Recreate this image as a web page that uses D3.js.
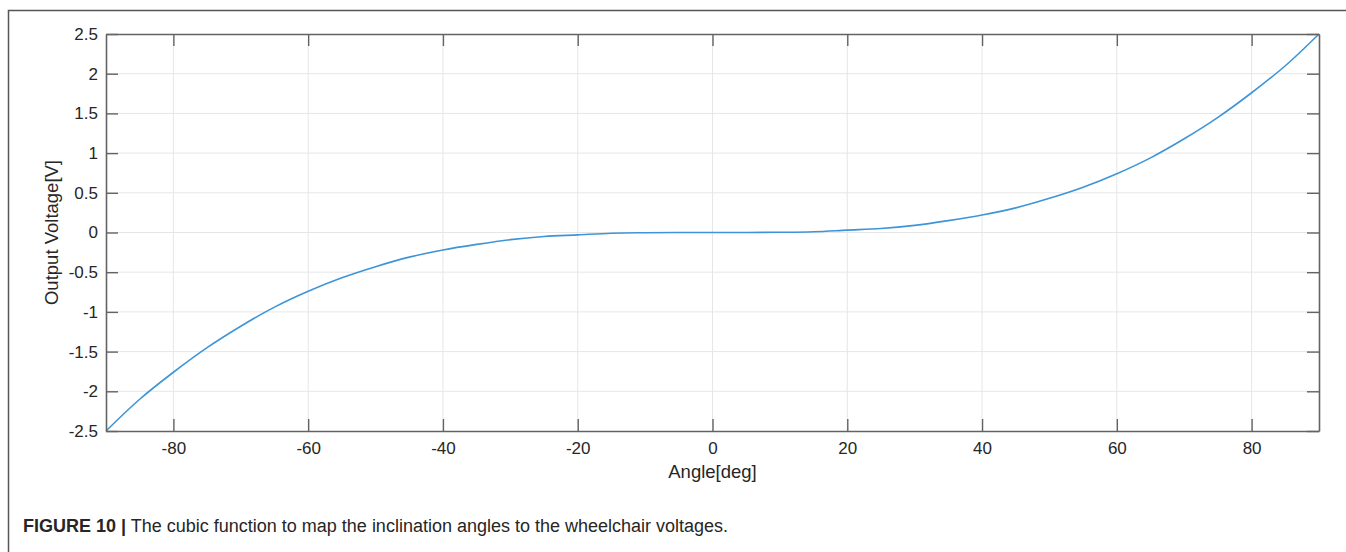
<!DOCTYPE html>
<html>
<head>
<meta charset="utf-8">
<script src="https://cdn.jsdelivr.net/npm/d3@7"></script>
<style>
  html, body { margin: 0; padding: 0; background: #fff; }
  svg text { font-family: "Liberation Sans", Arial, Helvetica, sans-serif; fill: #262626; }
</style>
</head>
<body>
<div id="chart"></div>
<script>
// values
const angles = [-90, -85, -80, -75, -70, -65, -60, -55, -50, -45, -40, -35, -30, -25, -20, -15, -10, -5,
  0, 5, 10, 15, 20, 25, 30, 35, 40, 45, 50, 55, 60, 65, 70, 75, 80, 85, 90];
const voltages = [-2.5, -2.1, -1.76, -1.45, -1.18, -0.94, -0.74, -0.57, -0.43, -0.31, -0.22, -0.15, -0.09, -0.05, -0.03, -0.01, -0.003, 0,
  0, 0, 0.003, 0.01, 0.03, 0.05, 0.09, 0.15, 0.22, 0.31, 0.43, 0.57, 0.74, 0.94, 1.18, 1.45, 1.76, 2.1, 2.5];
const xTicks = [-80, -60, -40, -20, 0, 20, 40, 60, 80];
const yTicks = [-2.5, -2, -1.5, -1, -0.5, 0, 0.5, 1, 1.5, 2, 2.5];
const xTitle = 'Angle[deg]';
const yTitle = 'Output Voltage[V]';
const captionBold = 'FIGURE 10 |';
const captionText = ' The cubic function to map the inclination angles to the wheelchair voltages.';

const W = 1346, H = 552;
const margin = { top: 34, right: 27, bottom: 121, left: 106 };
const width = W - margin.left - margin.right;
const height = H - margin.top - margin.bottom;
const tickLen = 12;
const axisColor = '#636363';

const svg = d3.select('#chart').append('svg').attr('width', W).attr('height', H);

// outer figure frame (left and top edges only)
svg.append('path')
  .attr('d', `M8.5,${H} V10.5 H${W}`)
  .attr('fill', 'none')
  .attr('stroke', '#555')
  .attr('stroke-width', 1.5);

const g = svg.append('g').attr('transform', `translate(${margin.left}, ${margin.top})`);

const x = d3.scaleLinear().domain([-90, 90]).range([0, width]);
const y = d3.scaleLinear().domain([-2.5, 2.5]).range([height, 0]);

// grid
g.append('g').selectAll('line').data(xTicks).join('line')
  .attr('x1', d => x(d)).attr('x2', d => x(d))
  .attr('y1', 0).attr('y2', height)
  .attr('stroke', '#e6e6e6').attr('stroke-width', 1);
g.append('g').selectAll('line').data(yTicks.slice(1, -1)).join('line')
  .attr('x1', 0).attr('x2', width)
  .attr('y1', d => y(d)).attr('y2', d => y(d))
  .attr('stroke', '#e6e6e6').attr('stroke-width', 1);

// curve
const line = d3.line()
  .x((d, i) => x(angles[i]))
  .y(d => y(d))
  .curve(d3.curveCatmullRom.alpha(0.5));
g.append('path')
  .datum(voltages)
  .attr('d', line)
  .attr('fill', 'none')
  .attr('stroke', '#3d95d8')
  .attr('stroke-width', 1.6);

// axes, ticks pointing inward on all four sides
const fmt = d => String(d);
function styleAxis(sel) {
  sel.attr('font-size', null).attr('font-family', null);
  sel.select('.domain').attr('stroke', axisColor).attr('stroke-width', 1.6);
  sel.selectAll('.tick line').attr('stroke', axisColor).attr('stroke-width', 1.4);
  sel.selectAll('.tick text').style('font-size', '17px').attr('fill', '#262626');
}

const xAxis = g.append('g').attr('transform', `translate(0, ${height})`)
  .call(d3.axisBottom(x).tickValues(xTicks).tickSizeInner(-tickLen).tickSizeOuter(0).tickPadding(11).tickFormat(fmt));
styleAxis(xAxis);

const xTop = g.append('g')
  .call(d3.axisTop(x).tickValues(xTicks).tickSizeInner(-tickLen).tickSizeOuter(0).tickFormat(''));
styleAxis(xTop);

const yAxis = g.append('g')
  .call(d3.axisLeft(y).tickValues(yTicks).tickSizeInner(-tickLen).tickSizeOuter(0).tickPadding(8).tickFormat(fmt));
styleAxis(yAxis);

const yRight = g.append('g').attr('transform', `translate(${width}, 0)`)
  .call(d3.axisRight(y).tickValues(yTicks).tickSizeInner(-tickLen).tickSizeOuter(0).tickFormat(''));
styleAxis(yRight);

// axis titles
g.append('text')
  .attr('x', x(0))
  .attr('y', height + 47)
  .attr('text-anchor', 'middle')
  .style('font-size', '18.5px')
  .text(xTitle);

g.append('text')
  .attr('transform', `translate(${52 - margin.left}, ${y(0)}) rotate(-90)`)
  .attr('text-anchor', 'middle')
  .attr('dy', '0.35em')
  .style('font-size', '18.5px')
  .text(yTitle);

// caption
const cap = svg.append('text')
  .attr('x', 23)
  .attr('y', 532)
  .style('font-size', '18px');
cap.append('tspan').attr('font-weight', 'bold').text(captionBold);
cap.append('tspan').text(captionText);
</script>
</body>
</html>
